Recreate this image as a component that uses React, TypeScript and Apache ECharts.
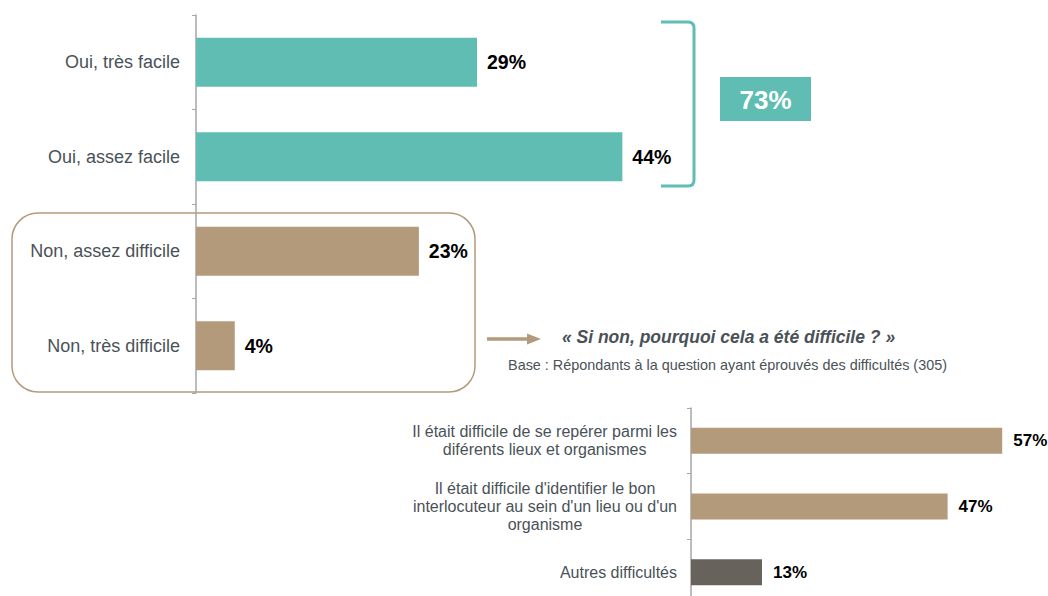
import React, { useEffect, useRef } from "react";
import * as echarts from "echarts";

const TEAL = "#5fbdb4";
const TAN = "#b39a7a";
const DARK = "#67625b";
const LABEL = "#4a5257";
const AXIS = "#a6a6a6";
const FONT = "'Liberation Sans', Arial, sans-serif";

const topCategories = ["Oui, très facile", "Oui, assez facile", "Non, assez difficile", "Non, très difficile"];
const topValues = [29, 44, 23, 4];
const topColors = [TEAL, TEAL, TAN, TAN];

const bottomCategories = [
  "Il était difficile de se repérer parmi les\ndiférents lieux et organismes",
  "Il était difficile d'identifier le bon\ninterlocuteur au sein d'un lieu ou d'un\norganisme",
  "Autres difficultés",
];
const bottomValues = [57, 47, 13];
const bottomColors = [TAN, TAN, DARK];

const totalLabel = "73%";
const questionText = "« Si non, pourquoi cela a été difficile ? »";
const baseText = "Base : Répondants à la question ayant éprouvés des difficultés (305)";

echarts.graphic.registerShape(
  "bracket",
  echarts.graphic.extendPath("M661,22 L688,22 Q694,22 694,28 L694,180 Q694,186 688,186 L661,186", {})
);

export default function App() {
  const ref = useRef<HTMLDivElement>(null);
  useEffect(() => {
    if (!ref.current) return;
    const chart = echarts.init(ref.current, undefined, { renderer: "svg" });
    chart.setOption({
      animation: false,
      grid: [
        { left: 196, top: 15, height: 378, width: 484.5, outerBoundsMode: "none" },
        { left: 691, top: 408, height: 197, width: 327.6, outerBoundsMode: "none" },
      ],
      xAxis: [
        { gridIndex: 0, type: "value", min: 0, max: 50, show: false },
        { gridIndex: 1, type: "value", min: 0, max: 60, show: false },
      ],
      yAxis: [
        {
          gridIndex: 0,
          type: "category",
          inverse: true,
          data: topCategories,
          axisLine: { show: true, lineStyle: { color: AXIS, width: 1.5 } },
          axisTick: { show: true, inside: false, length: 4, lineStyle: { color: AXIS, width: 1 } },
          axisLabel: { margin: 16, color: LABEL, fontSize: 18, fontFamily: FONT },
          splitLine: { show: false },
        },
        {
          gridIndex: 1,
          type: "category",
          inverse: true,
          data: bottomCategories,
          axisLine: { show: true, lineStyle: { color: AXIS, width: 1.5 } },
          axisTick: { show: true, inside: false, length: 4, lineStyle: { color: AXIS, width: 1 } },
          axisLabel: {
            margin: 14,
            align: "right",
            formatter: (v: string) =>
              v
                .split("\n")
                .map((l) => `{a|${l}}`)
                .join("\n"),
            rich: {
              a: {
                align: "center",
                color: LABEL,
                fontSize: 16,
                lineHeight: 18,
                fontFamily: FONT,
              },
            },
          },
          splitLine: { show: false },
        },
      ],
      series: [
        {
          type: "bar",
          xAxisIndex: 0,
          yAxisIndex: 0,
          barWidth: 49,
          data: topValues.map((v, i) => ({ value: v, itemStyle: { color: topColors[i] } })),
          label: {
            show: true,
            position: "right",
            distance: 10,
            formatter: "{c}%",
            color: "#000",
            fontWeight: "bold",
            fontSize: 19.5,
            fontFamily: FONT,
          },
        },
        {
          type: "bar",
          xAxisIndex: 1,
          yAxisIndex: 1,
          barWidth: 26,
          data: bottomValues.map((v, i) => ({ value: v, itemStyle: { color: bottomColors[i] } })),
          label: {
            show: true,
            position: "right",
            distance: 11,
            formatter: "{c}%",
            color: "#000",
            fontWeight: "bold",
            fontSize: 17,
            fontFamily: FONT,
          },
        },
      ],
      graphic: [
        {
          type: "rect",
          shape: { x: 12, y: 213, width: 463, height: 179, r: 26 },
          style: { fill: "none", stroke: TAN, lineWidth: 1.5 },
          silent: true,
        },
        {
          type: "bracket",
          x: 0,
          y: 0,
          style: { fill: "none", stroke: TEAL, lineWidth: 3 },
          silent: true,
        },
        {
          type: "rect",
          shape: { x: 720, y: 77, width: 91, height: 44 },
          style: { fill: TEAL },
          silent: true,
        },
        {
          type: "text",
          x: 765.5,
          y: 100,
          style: {
            text: totalLabel,
            fill: "#fff",
            font: `bold 26px ${FONT}`,
            textAlign: "center",
            textVerticalAlign: "middle",
          },
          silent: true,
        },
        {
          type: "line",
          shape: { x1: 487, y1: 339, x2: 530, y2: 339 },
          style: { stroke: TAN, lineWidth: 3.5 },
          silent: true,
        },
        {
          type: "polygon",
          shape: { points: [[527, 333.5], [541, 339], [527, 344.5]] },
          style: { fill: TAN },
          silent: true,
        },
        {
          type: "text",
          x: 728.5,
          y: 337,
          style: {
            text: questionText,
            fill: LABEL,
            font: `italic bold 17.5px ${FONT}`,
            textAlign: "center",
            textVerticalAlign: "middle",
          },
          silent: true,
        },
        {
          type: "text",
          x: 727.5,
          y: 365,
          style: {
            text: baseText,
            fill: LABEL,
            font: `14.4px ${FONT}`,
            textAlign: "center",
            textVerticalAlign: "middle",
          },
          silent: true,
        },
      ],
    });
    return () => chart.dispose();
  }, []);
  return (
    <div
      ref={ref}
      style={{ position: "fixed", left: 0, top: 0, width: 1048, height: 596, background: "#fff" }}
    />
  );
}
